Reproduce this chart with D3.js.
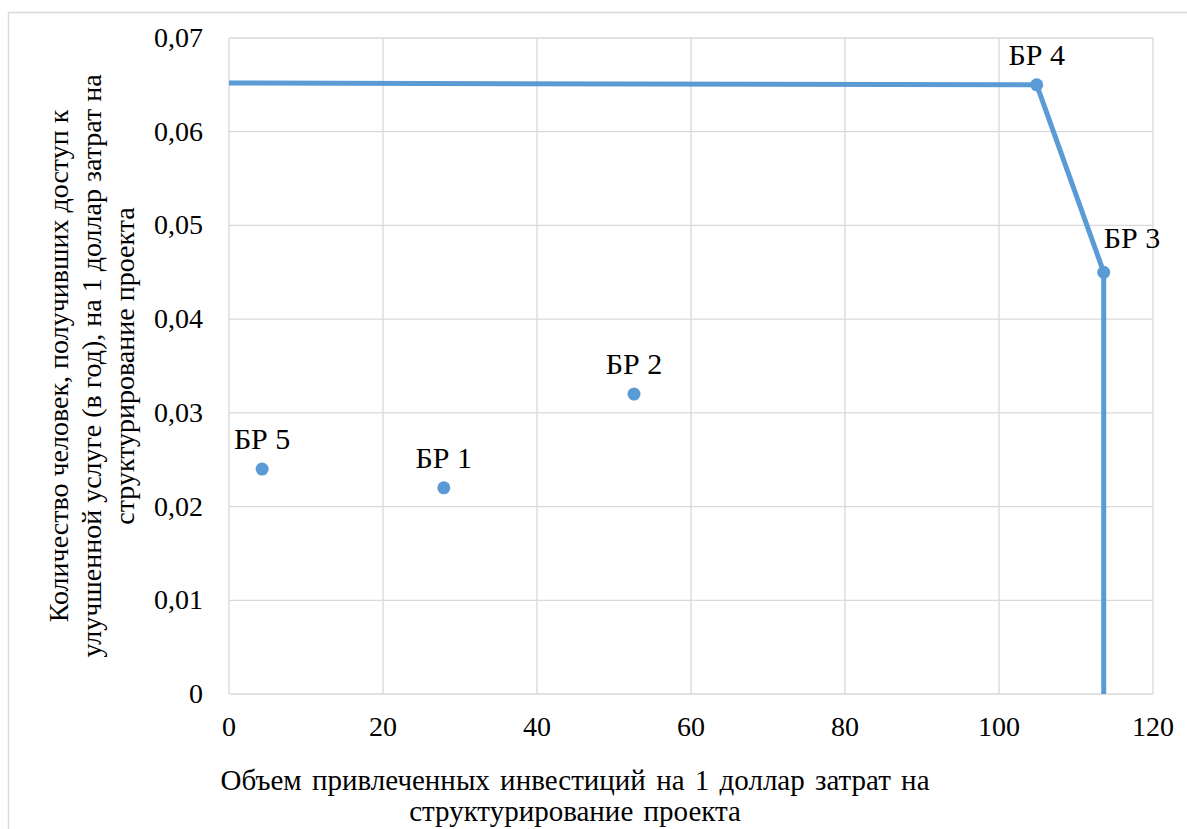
<!DOCTYPE html>
<html>
<head>
<meta charset="utf-8">
<script src="https://cdn.jsdelivr.net/npm/d3@7"></script>
<style>
  body { margin: 0; background: #fff; }
</style>
</head>
<body>
<div id="chart"></div>
<script>
// projects (scatter points)
var names = ["БР 1", "БР 2", "БР 3", "БР 4", "БР 5"];
var invest = [27.9, 52.6, 113.6, 104.9, 4.3];
var people = [0.022, 0.032, 0.045, 0.065, 0.024];

// efficient frontier
var frontierX = [0, 104.9, 113.6, 113.6];
var frontierY = [0.0652, 0.065, 0.045, 0];

var xTicks = [0, 20, 40, 60, 80, 100, 120];
var yTicks = [0, 0.01, 0.02, 0.03, 0.04, 0.05, 0.06, 0.07];

var xTitle = ["Объем привлеченных инвестиций на 1 доллар затрат на",
              "структурирование проекта"];
var yTitle = ["Количество человек, получивших доступ к",
              "улучшенной услуге (в год), на 1 доллар затрат на",
              "структурирование проекта"];

var W = 1187, H = 829,
    margin = {top: 38, right: 34, bottom: 135, left: 229},
    blue = "#5b9bd5",
    grid = "#d9d9d9",
    font = "'Liberation Serif', 'Times New Roman', Times, 'DejaVu Serif', serif",
    fontSize = 28;

var svg = d3.select("#chart").append("svg")
    .attr("width", W)
    .attr("height", H)
    .attr("font-family", font)
    .style("font-family", font);

// outer chart border
svg.append("rect")
    .attr("x", 8.5).attr("y", 12.5)
    .attr("width", W).attr("height", H)
    .attr("fill", "none")
    .attr("stroke", grid)
    .attr("stroke-width", 1.5);

var x = d3.scaleLinear().domain([0, 120]).range([margin.left, W - margin.right]);
var y = d3.scaleLinear().domain([0, 0.07]).range([H - margin.bottom, margin.top]);

var fmt = function(d) { return d === 0 ? "0" : d3.format(".2f")(d).replace(".", ","); };

// grid
svg.append("g").selectAll("line.v")
    .data(xTicks).enter().append("line")
    .attr("x1", function(d) { return x(d); })
    .attr("x2", function(d) { return x(d); })
    .attr("y1", y(0)).attr("y2", y(0.07))
    .attr("stroke", grid).attr("stroke-width", 1.3);

svg.append("g").selectAll("line.h")
    .data(yTicks).enter().append("line")
    .attr("y1", function(d) { return y(d); })
    .attr("y2", function(d) { return y(d); })
    .attr("x1", x(0)).attr("x2", x(120))
    .attr("stroke", grid).attr("stroke-width", 1.3);

// tick labels
svg.append("g").selectAll("text")
    .data(yTicks).enter().append("text")
    .attr("x", x(0) - 26)
    .attr("y", function(d) { return y(d) + 9; })
    .attr("text-anchor", "end")
    .attr("font-size", fontSize)
    .text(fmt);

svg.append("g").selectAll("text")
    .data(xTicks).enter().append("text")
    .attr("x", function(d) { return x(d); })
    .attr("y", y(0) + 42)
    .attr("text-anchor", "middle")
    .attr("font-size", fontSize)
    .text(function(d) { return d; });

// axis titles (one text per line)
svg.append("g").selectAll("text")
    .data(xTitle).enter().append("text")
    .attr("font-size", 29)
    .attr("text-anchor", "middle")
    .attr("word-spacing", 3)
    .attr("x", 575)
    .attr("y", function(d, i) { return 790 + i * 31; })
    .text(function(d) { return d; });

var yMid = (y(0) + y(0.07)) / 2;
svg.append("g").selectAll("text")
    .data(yTitle).enter().append("text")
    .attr("font-size", fontSize)
    .attr("text-anchor", "middle")
    .attr("transform", function(d, i) { return "translate(" + (68 + i * 33) + "," + yMid + ") rotate(-90)"; })
    .text(function(d) { return d; });

// frontier line
var line = d3.line()
    .x(function(d) { return x(d[0]); })
    .y(function(d) { return y(d[1]); });

svg.append("path")
    .datum(d3.zip(frontierX, frontierY))
    .attr("d", line)
    .attr("fill", "none")
    .attr("stroke", blue)
    .attr("stroke-width", 5)
    .attr("stroke-linejoin", "round");

// points
var pts = names.map(function(n, i) { return {name: n, x: invest[i], y: people[i]}; });

svg.append("g").selectAll("circle")
    .data(pts).enter().append("circle")
    .attr("cx", function(d) { return x(d.x); })
    .attr("cy", function(d) { return y(d.y); })
    .attr("r", 6.5)
    .attr("fill", blue);

// data labels: above the point, БР 3 pushed to the right of the line
svg.append("g").selectAll("text")
    .data(pts).enter().append("text")
    .attr("x", function(d) { return x(d.x); })
    .attr("y", function(d) { return y(d.y) - (d.name === "БР 3" ? 24 : 20); })
    .attr("text-anchor", function(d) { return d.name === "БР 3" ? "start" : "middle"; })
    .attr("font-size", 30)
    .text(function(d) { return d.name; });
</script>
</body>
</html>
